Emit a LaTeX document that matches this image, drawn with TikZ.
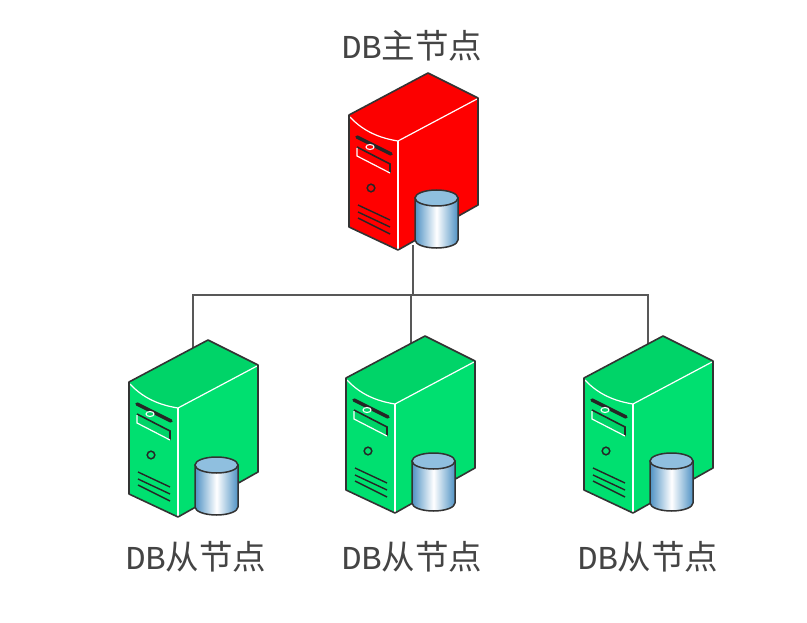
\documentclass[tikz,border=0pt]{standalone}
\usepackage{fontspec}
\setmainfont{Liberation Serif}
\newfontfamily\cjkf{Noto Sans CJK SC}
\newfontfamily\latf{Liberation Mono}
\definecolor{srvgreen}{HTML}{00E070}
\definecolor{srvgreendk}{HTML}{00D468}
\definecolor{srvred}{HTML}{FF0000}
\definecolor{srvreddk}{HTML}{FC0000}
\definecolor{edgec}{HTML}{333333}
\definecolor{wirec}{HTML}{585858}
\definecolor{cylblue}{HTML}{4F92C4}
\definecolor{cyltop}{HTML}{8FBFDF}
\definecolor{labelc}{HTML}{444444}
\tikzset{
  wire/.style={draw=wirec,line width=1.8pt},
  lbl/.style={text=labelc,inner sep=0pt,font=\fontsize{33.5}{38}\selectfont},
  pics/server/.style 2 args={code={
    \coordinate (-top) at (79,-42);
    \coordinate (-db) at (87,133);
    % body faces
    \fill[#1] (0,0) -- (79,-42) -- (129,-17) -- (129,90) -- (49,135) -- (0,112) -- cycle;
    \fill[#2] (0,0) .. controls (14,16) and (30,23) .. (49,26) -- (129,-17) -- (79,-42) -- cycle;
    % highlights
    \draw[white,line width=1.2pt] (1,2) .. controls (14,16) and (30,23) .. (49,26) -- (128,-16);
    \draw[white,line width=1.2pt] (49,26) -- (49,134);
    % outline
    \draw[edgec,line width=1.6pt,line join=round] (0,0) -- (79,-42) -- (129,-17) -- (129,90) -- (49,135) -- (0,112) -- cycle;
    % slot and bay
    \draw[black!85,line width=3.4pt,line cap=round] (8,22) -- (42,39);
    \fill[#2] (8,32) -- (41,49) -- (41,58) -- (8,41) -- cycle;
    \draw[black!85,line width=1.6pt] (8,32) -- (41,49) -- (41,58);
    \draw[white,line width=1.2pt] (8,33) -- (8,41) -- (41,58);
    \draw[white,line width=1.1pt,fill=#2] (21,32) ellipse (4 and 2.5);
    % LED
    \draw[black!85,line width=1.5pt] (22,73) circle (3.8);
    % vents
    \draw[black!85,line width=1.4pt] (9,90) -- (41,105) (9,97) -- (41,112) (9,103) -- (41,119);
    % database cylinder
    \path[left color=cylblue,right color=cylblue,middle color=white,draw=edgec,line width=1.5pt]
      (66,83) -- (66,125) arc[start angle=180,end angle=0,x radius=21.5,y radius=8]
      -- (109,83) -- cycle;
    \draw[edgec,line width=1.5pt,fill=cyltop] (87.5,83) ellipse (21.5 and 8);
  }}
}
\begin{document}
\begin{tikzpicture}[x=1pt,y=-1pt]
\useasboundingbox (0,0) rectangle (807,623);
\fill[white] (0,0) rectangle (807,623);
\coordinate (busL) at (193,295);
\coordinate (busM) at (411,295);
\coordinate (busT) at (413,295);
\coordinate (busR) at (648,295);
\coordinate (mfoot) at (413,245);
\coordinate (afoot) at (193,350);
\coordinate (bfoot) at (411,345);
\coordinate (cfoot) at (648,345);
\draw[wire] (mfoot) -- (busT);
\draw[wire] (afoot) -- (busL) -- (busR) -- (cfoot);
\draw[wire] (busM) -- (bfoot);
\pic (master) at (349,115) {server={srvred}{srvreddk}};
\pic (slavea) at (129,382) {server={srvgreen}{srvgreendk}};
\pic (slaveb) at (346,378) {server={srvgreen}{srvgreendk}};
\pic (slavec) at (584,378) {server={srvgreen}{srvgreendk}};
\node[lbl] (lm) at (412,46) {{\latf DB}{\cjkf 主节点}};
\node[lbl] (la) at (196,557) {{\latf DB}{\cjkf 从节点}};
\node[lbl] (lb) at (412,557) {{\latf DB}{\cjkf 从节点}};
\node[lbl] (lc) at (648,557) {{\latf DB}{\cjkf 从节点}};
\end{tikzpicture}
\end{document}
